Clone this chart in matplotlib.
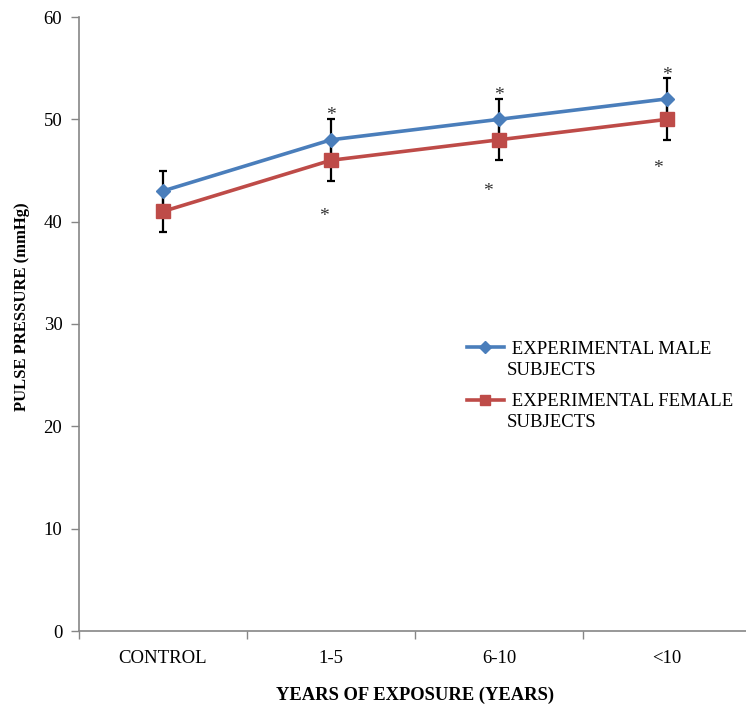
import numpy as np
import matplotlib.pyplot as plt

plt.rcParams['font.family'] = ['Liberation Serif', 'DejaVu Serif']

# Pulse pressure by years of exposure
groups = ['CONTROL', '1-5', '6-10', '<10']
male = [43, 48, 50, 52]
female = [41, 46, 48, 50]
male_err = [2, 2, 2, 2]
female_err = [2, 2, 2, 2]

# significance markers (group index, y value)
star_idx = [1, 2, 3]
male_star_y = [50.35, 52.3, 54.3]
female_star_y = [40.5, 42.9, 45.2]
female_star_dx = [-0.04, -0.065, -0.055]

blue = '#4A7EBB'
red = '#BE4B48'
axis_grey = '#868686'

fig = plt.figure(figsize=(7.46, 7.06), dpi=100)
ax = fig.add_axes([79 / 746, (706 - 631) / 706, 672 / 746, 614 / 706])

x = np.arange(len(groups))

ax.errorbar(x, male, yerr=male_err, fmt='none', ecolor='black',
            elinewidth=1.6, capsize=3, capthick=1.6, zorder=2)
ax.errorbar(x, female, yerr=female_err, fmt='none', ecolor='black',
            elinewidth=1.6, capsize=3, capthick=1.6, zorder=2)

ln_m, = ax.plot(x, male, color=blue, lw=2.6, marker='D', markersize=7.5, zorder=3)
ln_f, = ax.plot(x, female, color=red, lw=2.6, marker='s', markersize=9.5, zorder=3)

for i, ym, yf, dx in zip(star_idx, male_star_y, female_star_y, female_star_dx):
    ax.text(i, ym, '*', ha='center', va='center', fontsize=14, color='#333333')
    ax.text(i + dx, yf, '*', ha='center', va='center', fontsize=14, color='#333333')

ax.set_xlim(-0.5, 3.5)
ax.set_ylim(0, 60)
ax.set_yticks(np.arange(0, 61, 10))
ax.set_xticks(x)
ax.set_xticklabels(groups)
ax.set_xticks(np.arange(-0.5, 3.6, 1), minor=True)
ax.tick_params(axis='x', which='major', length=0, pad=14, labelsize=13.5)
ax.tick_params(axis='x', which='minor', length=6, color=axis_grey, width=1)
ax.tick_params(axis='y', length=6, color=axis_grey, width=1, pad=6, labelsize=13.5)

for side in ['top', 'right']:
    ax.spines[side].set_visible(False)
for side in ['left', 'bottom']:
    ax.spines[side].set_color(axis_grey)
    ax.spines[side].set_linewidth(1.2)

ax.set_xlabel('YEARS OF EXPOSURE (YEARS)', fontweight='bold', fontsize=13.3)
ax.xaxis.set_label_coords(0.5, -0.09)
ax.set_ylabel('PULSE PRESSURE (mmHg)', fontweight='bold', fontsize=12)
ax.yaxis.set_label_coords(-0.073, 0.528)

# legend: first line next to the handle, second line set underneath
leg = ax.legend([ln_m, ln_f], [' EXPERIMENTAL MALE', ' EXPERIMENTAL FEMALE'],
                loc='center left', bbox_to_anchor=(0.577, 0.416),
                frameon=False, fontsize=13.5, handlelength=2.0,
                handletextpad=0.15, labelspacing=1.89, borderpad=0,
                borderaxespad=0, markerscale=0.75)
for t in leg.get_texts():
    ax.annotate('SUBJECTS', xy=(0, 0), xycoords=t, xytext=(0, -15.1),
                textcoords='offset points', ha='left', va='bottom',
                fontsize=13.5, zorder=6)

fig.savefig('out.png', dpi=100)
